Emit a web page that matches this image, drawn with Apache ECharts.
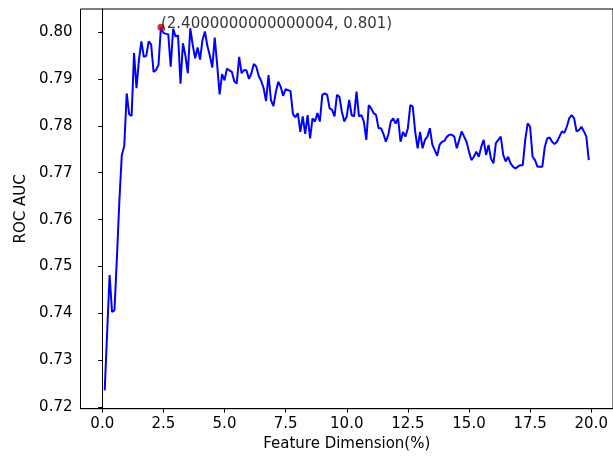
<!DOCTYPE html>
<html>
<head>
<meta charset="utf-8">
<script src="https://cdn.jsdelivr.net/npm/echarts@6/dist/echarts.min.js"></script>
<style>
html,body{margin:0;padding:0;background:#fff;}
#chart{width:613px;height:457px;}
</style>
</head>
<body>
<div id="chart"></div>
<script>
// Feature dimension (%) sampling grid: 0.1 .. 19.9 in steps of 0.1
const featureStep = 0.1;
const featureCount = 199;
const featureDims = Array.from({length: featureCount}, (_, i) => +((i + 1) * featureStep).toFixed(1));

// ROC AUC values
const aucValues = [
  0.7236, 0.7360, 0.7482, 0.7403, 0.7407, 0.7520, 0.7640, 0.7738, 0.7757, 0.7869,
  0.7825, 0.7821, 0.7955, 0.7880, 0.7940, 0.7980, 0.7947, 0.7949, 0.7980, 0.7973,
  0.7915, 0.7919, 0.7930, 0.8010, 0.7998, 0.7996, 0.7995, 0.7926, 0.8007, 0.7990,
  0.7993, 0.7890, 0.7976, 0.7950, 0.7912, 0.8008, 0.7972, 0.7944, 0.7967, 0.7941,
  0.7983, 0.8001, 0.7970, 0.7950, 0.7924, 0.7988, 0.7930, 0.7867, 0.7910, 0.7897,
  0.7922, 0.7918, 0.7915, 0.7895, 0.7890, 0.7947, 0.7912, 0.7919, 0.7918, 0.7900,
  0.7912, 0.7932, 0.7926, 0.7906, 0.7896, 0.7880, 0.7853, 0.7908, 0.7855, 0.7842,
  0.7872, 0.7894, 0.7883, 0.7864, 0.7878, 0.7876, 0.7874, 0.7825, 0.7818, 0.7827,
  0.7787, 0.7820, 0.7783, 0.7823, 0.7773, 0.7816, 0.7809, 0.7827, 0.7809, 0.7866,
  0.7869, 0.7866, 0.7837, 0.7834, 0.7820, 0.7866, 0.7862, 0.7830, 0.7809, 0.7820,
  0.7855, 0.7823, 0.7820, 0.7873, 0.7820, 0.7823, 0.7809, 0.7770, 0.7844, 0.7837,
  0.7827, 0.7823, 0.7795, 0.7795, 0.7783, 0.7766, 0.7781, 0.7809, 0.7816, 0.7805,
  0.7816, 0.7766, 0.7787, 0.7777, 0.7795, 0.7844, 0.7841, 0.7787, 0.7752, 0.7787,
  0.7752, 0.7770, 0.7777, 0.7795, 0.7760, 0.7748, 0.7736, 0.7760, 0.7766, 0.7768,
  0.7777, 0.7781, 0.7781, 0.7777, 0.7752, 0.7770, 0.7788, 0.7777, 0.7766, 0.7745,
  0.7727, 0.7734, 0.7745, 0.7734, 0.7755, 0.7770, 0.7738, 0.7759, 0.7730, 0.7720,
  0.7763, 0.7770, 0.7777, 0.7738, 0.7724, 0.7734, 0.7720, 0.7713, 0.7709, 0.7713,
  0.7716, 0.7716, 0.7770, 0.7805, 0.7798, 0.7734, 0.7727, 0.7713, 0.7713, 0.7713,
  0.7755, 0.7773, 0.7775, 0.7766, 0.7761, 0.7766, 0.7777, 0.7788, 0.7785, 0.7798,
  0.7816, 0.7823, 0.7816, 0.7788, 0.7791, 0.7798, 0.7788, 0.7777, 0.7727
];

// Annotated best point
const bestPoint = [2.4, 0.801];
const bestLabel = '(2.4000000000000004, 0.801)';

// Tick labels
const xTickValues = [0, 2.5, 5, 7.5, 10, 12.5, 15, 17.5, 20];
const yTickValues = [0.72, 0.73, 0.74, 0.75, 0.76, 0.77, 0.78, 0.79, 0.80];

const FONT = '"DejaVu Sans", sans-serif';
const FS = 15;
const lineData = featureDims.map((x, i) => [x, aucValues[i]]);

const chart = echarts.init(document.getElementById('chart'), null, {renderer: 'canvas'});
chart.setOption({
  animation: false,
  backgroundColor: '#ffffff',
  grid: {
    left: 80.5, top: 9, width: 536, height: 399.7,
    show: true, borderColor: '#000', borderWidth: 1, backgroundColor: '#fff'
  },
  xAxis: {
    type: 'value', min: -0.89, max: 20.89,
    name: 'Feature Dimension(%)', nameLocation: 'middle', nameGap: 28,
    nameTextStyle: {fontFamily: FONT, fontSize: FS, color: '#000'},
    axisLine: {show: true, lineStyle: {color: '#000', width: 1}},
    axisTick: {show: true, length: 4, customValues: xTickValues, lineStyle: {color: '#000'}},
    axisLabel: {customValues: xTickValues, margin: 8, fontFamily: FONT, fontSize: FS, color: '#000',
      formatter: v => v.toFixed(1)},
    splitLine: {show: false}
  },
  yAxis: {
    type: 'value', min: 0.7197, max: 0.8049,
    name: 'ROC AUC', nameLocation: 'middle', nameGap: 50,
    nameTextStyle: {fontFamily: FONT, fontSize: FS, color: '#000'},
    axisLine: {show: true, lineStyle: {color: '#000', width: 1}},
    axisTick: {show: true, length: 4, customValues: yTickValues, lineStyle: {color: '#000'}},
    axisLabel: {customValues: yTickValues, margin: 8, fontFamily: FONT, fontSize: FS, color: '#000',
      formatter: v => v.toFixed(2)},
    splitLine: {show: false}
  },
  series: [
    {
      type: 'line', data: lineData, showSymbol: false, symbol: 'none',
      lineStyle: {color: '#0000ff', width: 2}, z: 2
    },
    {
      type: 'scatter', data: [bestPoint], symbolSize: 7,
      itemStyle: {color: '#cc0000'}, z: 3,
      label: {
        show: true, formatter: bestLabel, position: [3.5, 3.5],
        align: 'left', verticalAlign: 'bottom', offset: [0, 4],
        fontFamily: FONT, fontSize: FS, color: '#000'
      }
    }
  ]
});
</script>
</body>
</html>
